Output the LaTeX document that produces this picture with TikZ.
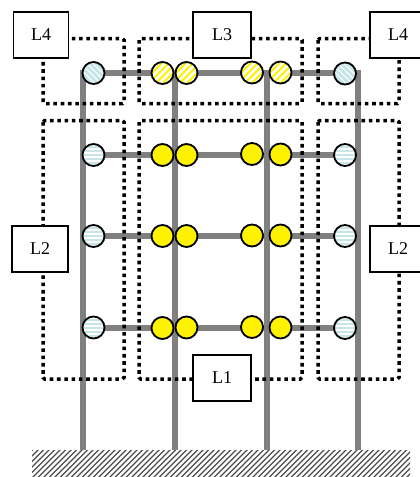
\documentclass[tikz,border=0pt]{standalone}
\usepackage{fontspec}
\setmainfont{Liberation Serif}
\definecolor{bluish}{HTML}{C8E6E9}
\definecolor{barc}{HTML}{808080}
\tikzset{
  x=1pt,y=-1pt,
  bar/.style={draw=barc,line width=6pt,line join=miter},
  zone/.style={draw=black,line width=3.5pt,dash pattern=on 3.6pt off 3.7pt,rounded corners=1.5pt},
  label/.style={draw=black,fill=white,line width=1.3pt,inner sep=0pt,minimum height=46pt,font=\fontsize{18}{18}\selectfont},
  disc/.style={circle,draw=black,line width=1.8pt,minimum size=22pt,inner sep=0pt},
  solid yellow/.style={disc,fill=yellow},
  hatched yellow/.style={disc,fill=yellow,path picture={
    \foreach \d in {-28,-21,...,28}
      \draw[white,line width=2.6pt] ([shift={(\d-16,16)}]path picture bounding box.center) -- ++(32,-32);}},
  flat blue/.style={disc,fill=white,path picture={
    \foreach \d in {-12,-8,...,12}
      \draw[bluish,line width=2pt] ([shift={(-14,\d)}]path picture bounding box.center) -- ++(28,0);}},
  slant blue/.style={disc,fill=white,path picture={
    \foreach \d in {-24,-18,...,24}
      \draw[bluish,line width=3pt] ([shift={(\d-16,-16)}]path picture bounding box.center) -- ++(32,32);}},
  groundbox/.style={inner sep=0pt,minimum width=378pt,minimum height=27pt,path picture={
    \foreach \d in {-400,-394.5,...,400}
      \draw[black!70,line width=1.3pt] ([shift={(\d-14,14)}]path picture bounding box.center) -- ++(28,-28);}},
}
\begin{document}
\begin{tikzpicture}
\useasboundingbox (0,0) rectangle (420,477);
\node[groundbox] (ground) at (221,463.5) {};
\coordinate (g1) at (83,450);
\coordinate (g2) at (175,450);
\coordinate (g3) at (267,450);
\coordinate (g4) at (358,450);
\coordinate (r1) at (220,73);
\coordinate (r2) at (220,155);
\coordinate (r3) at (220,236);
\coordinate (r4) at (220,327.5);
% bars
\draw[bar] (g2) -- (g2 |- r1);
\draw[bar] (g3) -- (g3 |- r1);
\draw[bar] (g1) |- (r1);
\draw[bar] (g4) |- (r1);
\draw[bar] (g1 |- r2) -- (g4 |- r2);
\draw[bar] (g1 |- r3) -- (g4 |- r3);
\draw[bar] (g1 |- r4) -- (g4 |- r4);
% zones
\draw[zone] (43,38.5) rectangle (124,103.5);
\draw[zone] (139,38.5) rectangle (302,103.5);
\draw[zone] (318,38.5) rectangle (399,103.5);
\draw[zone] (43,120.5) rectangle (124,379);
\draw[zone] (139,120.5) rectangle (302,379);
\draw[zone] (318,120.5) rectangle (399,379);
% discs
\node[slant blue] (a1) at (93.5,73) {};
\node[hatched yellow] (a2) at (162.5,73) {};
\node[hatched yellow] (a3) at (186.5,73) {};
\node[hatched yellow] (a4) at (252,72.5) {};
\node[hatched yellow] (a5) at (280.5,72.5) {};
\node[slant blue] (a6) at (345,73.5) {};
\node[flat blue] (b1) at (93.5,155) {};
\node[solid yellow] (b2) at (162.5,155) {};
\node[solid yellow] (b3) at (186.5,155) {};
\node[solid yellow] (b4) at (252,154) {};
\node[solid yellow] (b5) at (280.5,154.5) {};
\node[flat blue] (b6) at (345,155) {};
\node[flat blue] (c1) at (93.5,236) {};
\node[solid yellow] (c2) at (162.5,236) {};
\node[solid yellow] (c3) at (186.5,236) {};
\node[solid yellow] (c4) at (252,235.5) {};
\node[solid yellow] (c5) at (280.5,235.5) {};
\node[flat blue] (c6) at (345,236) {};
\node[flat blue] (d1) at (93.5,327.5) {};
\node[solid yellow] (d2) at (162.5,328) {};
\node[solid yellow] (d3) at (186.5,327.5) {};
\node[solid yellow] (d4) at (252,327) {};
\node[solid yellow] (d5) at (280.5,327.5) {};
\node[flat blue] (d6) at (345,328) {};
% labels
\node[label,minimum width=55pt] (l4a) at (41,35) {L4};
\node[label,minimum width=58pt] (l3) at (222,35) {L3};
\node[label,minimum width=56pt] (l4b) at (398,35) {L4};
\node[label,minimum width=56pt] (l2a) at (40,249) {L2};
\node[label,minimum width=56pt] (l2b) at (398,249) {L2};
\node[label,minimum width=58pt] (l1) at (222,378) {L1};
\end{tikzpicture}
\end{document}
